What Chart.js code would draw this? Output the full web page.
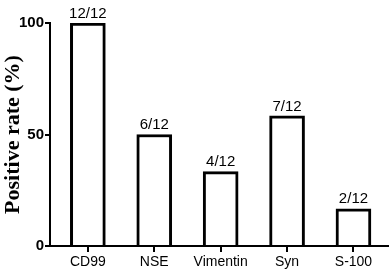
<!DOCTYPE html>
<html>
<head>
<meta charset="utf-8">
<script src="https://cdn.jsdelivr.net/npm/chart.js@4"></script>
<style>
  html, body { margin: 0; padding: 0; background: #fff; }
  #wrap { width: 390px; height: 274px; }
</style>
</head>
<body>
<div id="wrap"><canvas id="rateChart"></canvas></div>
<script>
// Chart data
const markers = ['CD99', 'NSE', 'Vimentin', 'Syn', 'S-100'];
const positiveRates = [100, 50, 33.33, 58.33, 16.67];
const countLabels = ['12/12', '6/12', '4/12', '7/12', '2/12'];
const yTicks = [0, 50, 100];

// Draw the "n/12" text above each bar
const countLabelPlugin = {
    id: 'countLabels',
    afterDatasetsDraw(chart) {
        const ctx = chart.ctx;
        const meta = chart.getDatasetMeta(0);
        ctx.save();
        ctx.font = '15px Arial, "Liberation Sans", sans-serif';
        ctx.fillStyle = '#000';
        ctx.textAlign = 'center';
        ctx.textBaseline = 'bottom';
        meta.data.forEach((bar, i) => {
            ctx.fillText(countLabels[i], bar.x, bar.y - 2);
        });
        ctx.restore();
    }
};

const ctx = document.getElementById('rateChart').getContext('2d');
new Chart(ctx, {
    type: 'bar',
    data: {
        datasets: [{
            data: positiveRates.map((v, i) => ({ x: i, y: v })),
            backgroundColor: '#fff',
            borderColor: '#000',
            borderWidth: 3,
            barThickness: 35
        }]
    },
    options: {
        responsive: true,
        maintainAspectRatio: false,
        animation: false,
        layout: { padding: { top: 23, right: 2, left: 0, bottom: 0 } },
        plugins: {
            legend: { display: false },
            tooltip: { enabled: false }
        },
        scales: {
            x: {
                type: 'linear',
                offset: false,
                min: -0.57,
                max: 4.52,
                afterBuildTicks: scale => {
                    scale.ticks = markers.map((m, i) => ({ value: i }));
                },
                afterFit: scale => { scale.height = 28; },
                ticks: {
                    callback: value => markers[value],
                    color: '#000',
                    font: { family: 'Arial, "Liberation Sans", sans-serif', size: 14 },
                    padding: 2,
                    maxRotation: 0,
                    autoSkip: false
                },
                grid: {
                    offset: false,
                    drawOnChartArea: false,
                    drawTicks: true,
                    tickLength: 6,
                    color: '#000',
                    lineWidth: 2
                },
                border: { color: '#000', width: 2 }
            },
            y: {
                min: 0,
                max: 100,
                afterBuildTicks: scale => {
                    scale.ticks = yTicks.map(v => ({ value: v }));
                },
                afterFit: scale => { scale.width = 50; },
                ticks: {
                    color: '#000',
                    font: { family: 'Arial, "Liberation Sans", sans-serif', size: 15, weight: 'bold' },
                    padding: 1
                },
                grid: {
                    drawOnChartArea: false,
                    drawTicks: true,
                    tickLength: 5,
                    color: '#000',
                    lineWidth: 2
                },
                border: { color: '#000', width: 2 },
                title: {
                    display: true,
                    text: 'Positive rate (%)',
                    color: '#000',
                    font: { family: '"Times New Roman", "Liberation Serif", serif', size: 22, weight: 'bold' },
                    padding: 0
                }
            }
        }
    },
    plugins: [countLabelPlugin]
});
</script>
</body>
</html>
